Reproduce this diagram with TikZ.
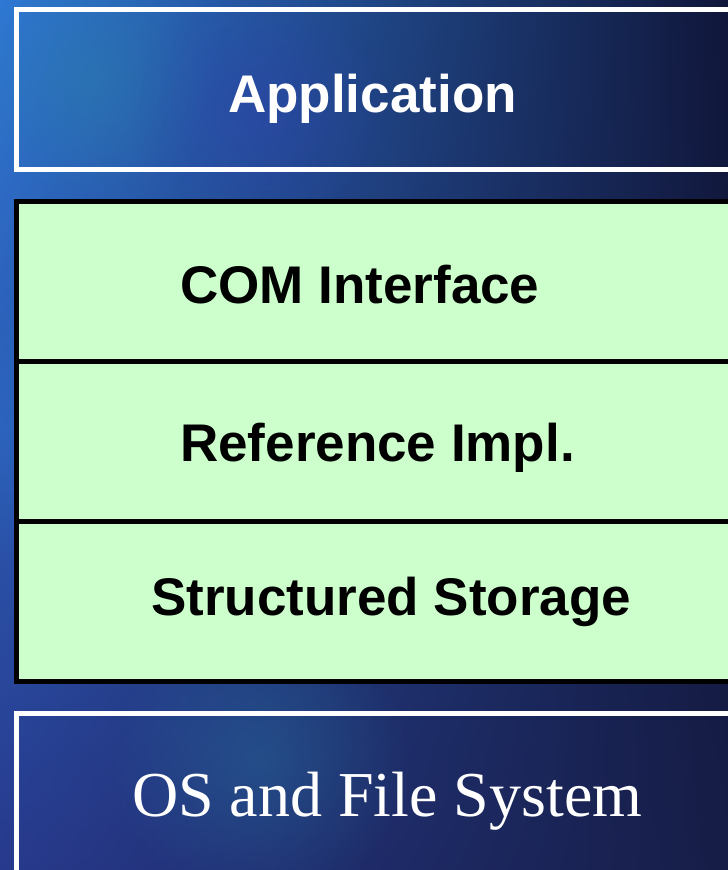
\documentclass[tikz,border=0pt]{standalone}
\usepackage{fontspec}
\setmainfont{Liberation Serif}
\setsansfont{Liberation Sans}
\usetikzlibrary{fadings,shadings}
\definecolor{mint}{HTML}{CCFFCC}
\definecolor{skyblue}{HTML}{2F78D4}
\definecolor{navy}{HTML}{10163A}
\definecolor{deepblue}{HTML}{27398C}
\definecolor{nightblue}{HTML}{161D46}
\definecolor{glow}{HTML}{2A7FA8}
\definecolor{violet}{HTML}{3040B0}
\tikzfading[name=softspot,inner color=transparent!0,outer color=transparent!100]

\tikzset{
  shell/.style={draw=white,line width=5pt,minimum width=760pt,minimum height=160pt,anchor=north west,inner sep=0pt,outer sep=0pt},
  layer/.style={draw=black,fill=mint,line width=5pt,minimum width=760pt,minimum height=160pt,anchor=north west,inner sep=0pt,outer sep=0pt},
  boldlabel/.style={anchor=base west,inner sep=0pt,font=\sffamily\bfseries\fontsize{53}{60}\selectfont},
}

\begin{document}
\begin{tikzpicture}[x=1pt,y=-1pt]
\clip (0,0) rectangle (728,870);
% backdrop
\shade[upper left=skyblue,upper right=navy,lower left=deepblue,lower right=nightblue] (0,0) rectangle (728,870);
\fill[glow,opacity=0.45,path fading=softspot] (90,80) circle (120);
\fill[violet,opacity=0.4,path fading=softspot] (260,110) circle (130);
\fill[skyblue,opacity=0.35,path fading=softspot] (0,430) circle (140);
\fill[glow,opacity=0.35,path fading=softspot] (260,760) circle (150);

% layers
\node[shell] (app) at (16.5,9.5) {};
\node[layer] (com) at (16.5,201.5) {};
\node[layer] (ref) at (16.5,361.5) {};
\node[layer] (store) at (16.5,521.5) {};
\node[shell] (os) at (16.5,713.5) {};

% labels
\node[boldlabel,text=white] (applabel) at (228,112) {Application};
\node[boldlabel] (comlabel) at (180,303) {COM Interface};
\node[boldlabel] (reflabel) at (180,461) {Reference Impl.};
\node[boldlabel] (storelabel) at (151,615) {Structured Storage};
\node[anchor=base west,inner sep=0pt,text=white,font=\fontsize{64}{70}\selectfont] (oslabel) at (132,816) {OS and File System};
\end{tikzpicture}
\end{document}
